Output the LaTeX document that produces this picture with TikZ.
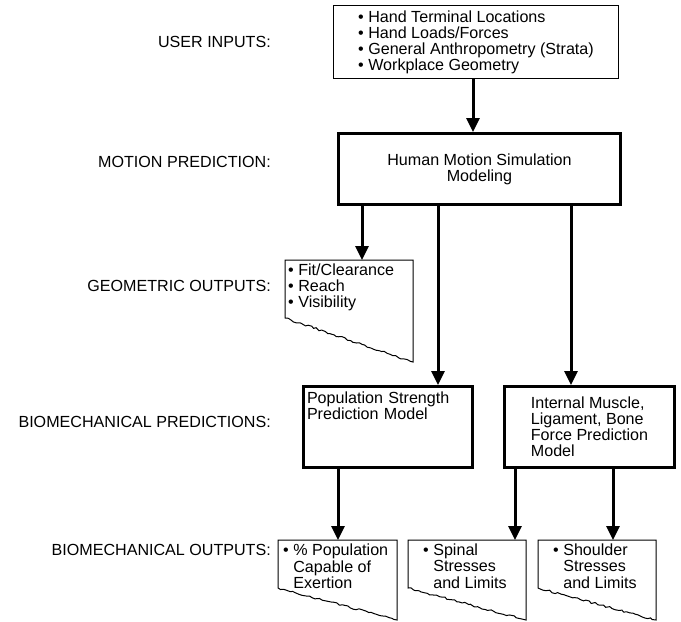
\documentclass[tikz,border=0pt]{standalone}
\usepackage{fontspec}
\setmainfont{Liberation Sans}
\usetikzlibrary{arrows.meta,calc,decorations.pathmorphing}

\newcommand{\bul}[1]{\textbullet\ \begin{tabular}[t]{@{}l@{}}#1\end{tabular}}
% outline of an output sheet: node, width, left drop, right drop
\newcommand{\sheetline}[4]{%
  \draw[thinline] (#1.north west) -- ++(#2,0) -- ++(0,-#4)
    decorate {-- ($(#1.north west)+(0,-#3)$)} -- cycle;}

\tikzset{
  thinline/.style={line width=1pt, decoration={random steps,segment length=3pt,amplitude=1pt}},
  thinbox/.style={draw, line width=1pt, align=left},
  thickbox/.style={draw, line width=3pt},
  sheet/.style={anchor=north west, inner ysep=4pt, align=left},
  lbl/.style={anchor=base east, inner sep=0pt},
  arr/.style={line width=3pt, -{Triangle[length=14pt,width=13pt]}}
}

\begin{document}
\begin{tikzpicture}[x=1pt, y=1pt, font=\fontsize{16.1}{16}\selectfont]
  \useasboundingbox (0,0) rectangle (681,-622);
  \pgfmathsetseed{7}

  % row labels
  \foreach \y/\t/\n in {47/USER INPUTS:/lblin, 167/MOTION PREDICTION:/lblmo,
      291/GEOMETRIC OUTPUTS:/lblgeo, 427/BIOMECHANICAL PREDICTIONS:/lblpred,
      555/BIOMECHANICAL OUTPUTS:/lblout}{
    \node[lbl] (\n) at (271,-\y) {\t};
  }

  % boxes
  \node[thinbox, minimum width=285, minimum height=73] (inputs) at (476,-42)
    {\textbullet\ Hand Terminal Locations\\\textbullet\ Hand Loads/Forces\\
     \textbullet\ General Anthropometry (Strata)\\\textbullet\ Workplace Geometry};
  \node[thickbox, minimum width=282, minimum height=71, align=center] (motion) at (479.5,-169)
    {Human Motion Simulation\\Modeling};
  \node[thickbox, anchor=north west, minimum width=169, inner xsep=3.5pt, inner ysep=5pt,
        text width=162pt, text height=11.5pt, text depth=59.5pt] (strength) at (302,-385)
    {Population Strength\\Prediction Model};
  \node[thickbox, minimum width=170, minimum height=81, align=left] (force) at (589.5,-427)
    {Internal Muscle,\\Ligament, Bone\\Force Prediction\\Model};

  % output sheets
  \node[sheet, inner xsep=3pt] (geom) at (285,-260)
    {\textbullet\ Fit/Clearance\\\textbullet\ Reach\\\textbullet\ Visibility};
  \sheetline{geom}{128}{58}{102}
  \node[sheet, inner xsep=5pt] (capable) at (278,-540) {\bul{\% Population\\Capable of\\Exertion}};
  \sheetline{capable}{119}{48}{80}
  \node[sheet, inner xsep=15pt] (spinal) at (408,-540) {\bul{Spinal\\Stresses\\and Limits}};
  \sheetline{spinal}{118}{48}{80}
  \node[sheet, inner xsep=15pt] (shoulder) at (538,-540) {\bul{Shoulder\\Stresses\\and Limits}};
  \sheetline{shoulder}{118}{48}{80}

  % connectors
  \draw[arr] (473,0 |- inputs.south) -- (473,0 |- motion.north);
  \foreach \x/\to in {362/geom, 438/strength, 571/force}{
    \draw[arr] (\x,0 |- motion.south) -- (\x,0 |- \to.north);
  }
  \draw[arr] (338,0 |- strength.south) -- (338,0 |- capable.north);
  \foreach \x/\to in {515/spinal, 613/shoulder}{
    \draw[arr] (\x,0 |- force.south) -- (\x,0 |- \to.north);
  }
\end{tikzpicture}
\end{document}
